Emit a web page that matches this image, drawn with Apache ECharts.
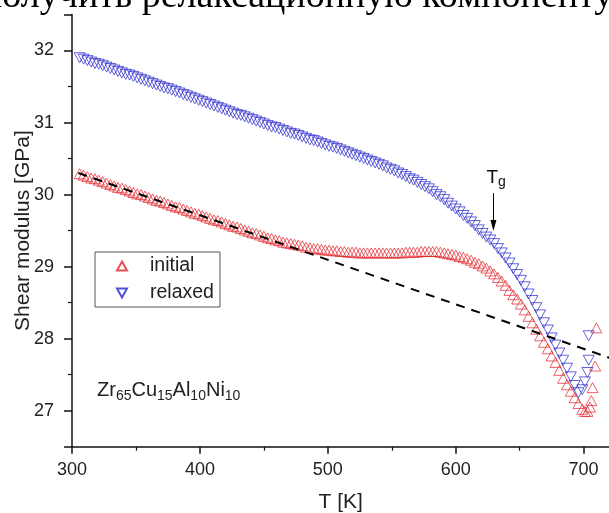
<!DOCTYPE html>
<html>
<head>
<meta charset="utf-8">
<script src="https://cdn.jsdelivr.net/npm/echarts@6/dist/echarts.min.js"></script>
<style>
  html, body { margin: 0; padding: 0; background: #fff; }
  #chart { width: 609px; height: 513px; }
</style>
</head>
<body>
<div id="chart"></div>
<script>
// Temperature sweep shared by both heating runs (K)
const tempK = [306,309,312,315,318,321,324,327,330,333,336,339,342,345,348,351,354,357,360,363,366,369,372,375,378,381,384,387,390,393,396,399,402,405,408,411,414,417,420,423,426,429,432,435,438,441,444,447,450,453,456,459,462,465,468,471,474,477,480,483,486,489,492,495,498,501,504,507,510,513,516,519,522,525,528,531,534,537,540,543,546,549,552,555,558,561,564,567,570,573,576,579,582,585,588,591,594,597,600,603,606,609,612,615,618,621,624,627,630,633,636,639,642,645,648,651,654,657,660,663,666,669,672,675,678,681,684,687,690,693,696,699];

// Shear modulus of the as-cast ("initial") sample, GPa
const initialGPa = [30.29,30.27,30.25,30.23,30.22,30.20,30.18,30.16,30.14,30.12,30.10,30.09,30.07,30.05,30.03,30.01,30.00,29.98,29.96,29.94,29.92,29.91,29.89,29.87,29.85,29.83,29.82,29.80,29.78,29.76,29.74,29.73,29.71,29.69,29.67,29.65,29.64,29.62,29.60,29.58,29.56,29.55,29.53,29.51,29.49,29.47,29.46,29.44,29.42,29.40,29.39,29.37,29.36,29.34,29.33,29.32,29.31,29.30,29.29,29.27,29.26,29.25,29.25,29.24,29.23,29.23,29.22,29.22,29.21,29.21,29.20,29.20,29.20,29.19,29.19,29.19,29.19,29.19,29.19,29.19,29.19,29.19,29.19,29.19,29.19,29.20,29.20,29.20,29.20,29.21,29.21,29.21,29.21,29.21,29.20,29.19,29.18,29.17,29.16,29.14,29.13,29.11,29.09,29.06,29.04,29.01,28.98,28.94,28.90,28.85,28.80,28.74,28.67,28.61,28.55,28.48,28.40,28.31,28.22,28.13,28.04,27.95,27.86,27.76,27.67,27.56,27.45,27.36,27.27,27.18,27.10,27.02];

// Shear modulus of the pre-annealed ("relaxed") sample, GPa
const relaxedGPa = [31.90,31.88,31.86,31.84,31.82,31.81,31.79,31.77,31.75,31.73,31.71,31.69,31.67,31.66,31.64,31.62,31.60,31.58,31.56,31.54,31.52,31.50,31.48,31.47,31.45,31.43,31.41,31.39,31.37,31.35,31.33,31.31,31.29,31.27,31.25,31.23,31.21,31.19,31.17,31.15,31.13,31.11,31.10,31.08,31.06,31.04,31.02,31.00,30.98,30.96,30.94,30.93,30.91,30.89,30.87,30.85,30.84,30.82,30.80,30.78,30.76,30.75,30.73,30.71,30.69,30.67,30.66,30.64,30.62,30.60,30.58,30.56,30.54,30.52,30.50,30.48,30.46,30.44,30.42,30.40,30.37,30.35,30.33,30.30,30.28,30.25,30.22,30.20,30.17,30.14,30.11,30.08,30.04,30.00,29.97,29.93,29.88,29.84,29.80,29.76,29.71,29.67,29.62,29.57,29.51,29.46,29.41,29.37,29.32,29.25,29.19,29.12,29.05,28.97,28.89,28.81,28.72,28.62,28.53,28.43,28.33,28.22,28.12,28.01,27.91,27.80,27.70,27.59,27.47,27.35,27.25,27.29];

// Points past the modulus minimum (crystallization onset)
const initialTailK   = [701, 703, 705, 706, 707, 709, 710];
const initialTailGPa = [26.99, 26.99, 27.05, 27.14, 27.32, 27.62, 28.15];
const relaxedTailK   = [701, 703, 704, 704];
const relaxedTailGPa = [27.40, 27.53, 27.70, 28.04];

// Linear extrapolation of the low-temperature glass behaviour
const baselineK   = [305, 750];
const baselineGPa = [30.30, 27.55];

// Glass transition marker
const tgK = 629.5;
const tgArrowGPa = [30.02, 29.57];

const seriesNames = ['initial', 'relaxed'];
const alloyParts = [['Zr', '65'], ['Cu', '15'], ['Al', '10'], ['Ni', '10']];
const headingText = 'получить релаксационную компоненту';

const SANS = '"Liberation Sans", Arial, sans-serif';
const RED = '#e2262c';
const BLUE = '#2626cc';
const UP_TRI = 'path://M5,0L10,9L0,9Z';
const DOWN_TRI = 'path://M0,0L10,0L5,9Z';
const ARROW_HEAD = 'path://M5,0L10,16L0,16Z';

function pairs(xs, ys) { return xs.map((x, i) => [x, ys[i]]); }

const chart = echarts.init(document.getElementById('chart'), null, { renderer: 'canvas' });

const gridLeft = 72, gridTop = 14.5, gridHeight = 432.2;
const pxPerK = 1.279;

const option = {
  animation: false,
  backgroundColor: '#fff',
  grid: {
    left: gridLeft, top: gridTop,
    width: (750 - 300) * pxPerK, height: gridHeight,
    outerBoundsMode: 'none', containLabel: false
  },
  legend: {
    data: [
      { name: seriesNames[0], icon: UP_TRI },
      { name: seriesNames[1], icon: DOWN_TRI }
    ],
    orient: 'vertical',
    left: 95, top: 252,
    padding: [4, 6, 4, 21],
    itemWidth: 10, itemHeight: 9, itemGap: 7,
    borderColor: '#555', borderWidth: 1,
    textStyle: { fontFamily: SANS, fontSize: 19.5, color: '#222', padding: [0, 0, 0, 18] },
    selectedMode: false
  },
  xAxis: {
    type: 'value', min: 300, max: 750, interval: 100,
    name: 'T [K]', nameLocation: 'middle', nameGap: 45, nameMoveOverlap: false,
    nameTextStyle: { fontFamily: SANS, fontSize: 21, color: '#222', padding: [0, 38, 0, 0] },
    axisLine: { onZero: false, lineStyle: { color: '#111', width: 1.5 } },
    axisTick: { inside: false, length: 7, lineStyle: { color: '#111', width: 1.5 } },
    minorTick: { show: true, splitNumber: 2, length: 4, lineStyle: { color: '#111', width: 1.2 } },
    axisLabel: { fontFamily: SANS, fontSize: 18, color: '#222', margin: 14, showMaxLabel: false },
    splitLine: { show: false }
  },
  yAxis: {
    type: 'value', min: 26.5, max: 32.5, splitNumber: 6,
    name: 'Shear modulus [GPa]', nameLocation: 'middle', nameGap: 38, nameMoveOverlap: false,
    nameTextStyle: { fontFamily: SANS, fontSize: 21, color: '#222' },
    axisLine: { onZero: false, lineStyle: { color: '#111', width: 1.5 } },
    axisTick: { inside: false, length: 8, lineStyle: { color: '#111', width: 1.5 } },
    minorTick: { show: true, splitNumber: 2, length: 4, lineStyle: { color: '#111', width: 1.2 } },
    axisLabel: { fontFamily: SANS, fontSize: 18, color: '#222', margin: 18, showMinLabel: false, showMaxLabel: false },
    splitLine: { show: false }
  },
  series: [
    {
      name: seriesNames[0], type: 'scatter',
      data: pairs(tempK, initialGPa).concat(pairs(initialTailK, initialTailGPa)),
      symbol: UP_TRI, symbolSize: [11, 10],
      itemStyle: { color: 'rgba(0,0,0,0)', borderColor: RED, borderWidth: 0.9 },
      z: 2
    },
    {
      name: seriesNames[1], type: 'scatter',
      data: pairs(tempK, relaxedGPa).concat(pairs(relaxedTailK, relaxedTailGPa)),
      symbol: DOWN_TRI, symbolSize: [11, 10],
      itemStyle: { color: 'rgba(0,0,0,0)', borderColor: BLUE, borderWidth: 0.9 },
      z: 3,
      markLine: {
        silent: true, animation: false,
        symbol: ['none', ARROW_HEAD], symbolSize: [6, 11],
        lineStyle: { color: '#000', width: 1, type: 'solid' },
        itemStyle: { color: '#000' },
        label: { show: false },
        data: [[{ coord: [tgK, tgArrowGPa[0]] }, { coord: [tgK, tgArrowGPa[1]] }]]
      }
    },
    {
      name: 'baseline', type: 'line',
      data: pairs(baselineK, baselineGPa),
      symbol: 'none', clip: true,
      lineStyle: { color: '#000', width: 2, type: [9, 7] },
      z: 4
    }
  ]
};

chart.setOption(option);

// Annotations placed from data coordinates
const tgPx = chart.convertToPixel({ gridIndex: 0 }, [tgK, tgArrowGPa[0]]);
const alloyRich = alloyParts.map(p => '{m|' + p[0] + '}{s|' + p[1] + '}').join('');

chart.setOption({
  graphic: [
    {
      type: 'text', left: -18, top: -22,
      style: { text: headingText, font: '38px "Liberation Serif", "Times New Roman", serif', fill: '#000' },
      silent: true
    },
    {
      type: 'text', x: 97, y: 390,
      style: {
        text: alloyRich, verticalAlign: 'middle', fill: '#222',
        rich: {
          m: { fontFamily: SANS, fontSize: 20, fill: '#222' },
          s: { fontFamily: SANS, fontSize: 14, fill: '#222', padding: [13, 0, 0, 0] }
        }
      },
      silent: true
    },
    {
      type: 'text', x: tgPx[0] - 7, y: tgPx[1] - 15,
      style: {
        text: '{t|T}{g|g}', verticalAlign: 'middle', fill: '#111',
        rich: {
          t: { fontFamily: SANS, fontSize: 19, fill: '#111' },
          g: { fontFamily: SANS, fontSize: 14, fill: '#111', padding: [8, 0, 0, 0] }
        }
      },
      silent: true
    }
  ]
});
</script>
</body>
</html>
